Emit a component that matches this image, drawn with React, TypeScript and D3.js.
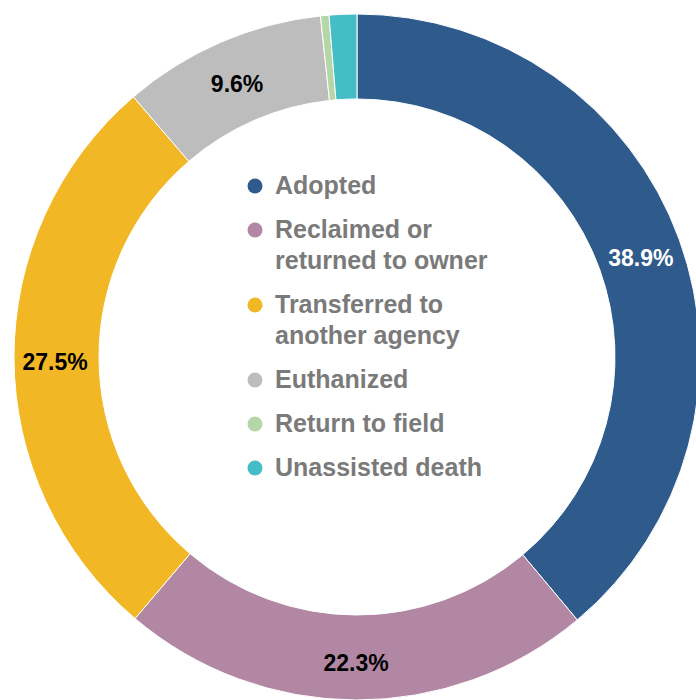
import React from "react";
import * as d3 from "d3";

const categories = [
  "Adopted",
  "Reclaimed or returned to owner",
  "Transferred to another agency",
  "Euthanized",
  "Return to field",
  "Unassisted death",
];
const values = [38.9, 22.3, 27.5, 9.6, 0.4, 1.3];
const valueLabels = ["38.9%", "22.3%", "27.5%", "9.6%", "", ""];
const colors = ["#2E5B8C", "#B287A3", "#F2B724", "#BDBDBD", "#B5D7A8", "#45BDC6"];
const labelColors = ["#FFFFFF", "#000000", "#000000", "#000000", "#000000", "#000000"];
const legendLines = [
  ["Adopted"],
  ["Reclaimed or", "returned to owner"],
  ["Transferred to", "another agency"],
  ["Euthanized"],
  ["Return to field"],
  ["Unassisted death"],
];

const W = 696;
const H = 700;
const CX = 357;
const CY = 357;
const R = 343;
const r = 258;

export default function App() {
  const pie = d3.pie<number>().sort(null).value((d) => d);
  const arcs = pie(values);
  const arcGen = d3.arc<d3.PieArcDatum<number>>().innerRadius(r).outerRadius(R);
  const lr = (R + r) / 2 + 1.5;
  const labelArc = d3.arc<d3.PieArcDatum<number>>().innerRadius(lr).outerRadius(lr);

  const font = "'Liberation Sans', Arial, sans-serif";
  let y = 194;
  const legendItems: { color: string; lines: string[]; baselines: number[] }[] = [];
  legendLines.forEach((lines, i) => {
    const baselines = lines.map((_, j) => y + j * 31);
    legendItems.push({ color: colors[i], lines, baselines });
    y = baselines[baselines.length - 1] + 44;
  });

  return (
    <svg
      width={W}
      height={H}
      style={{ position: "absolute", left: 0, top: 0, background: "#fff" }}
    >
      <g transform={`translate(${CX},${CY})`}>
        {arcs.map((a, i) => (
          <path key={i} d={arcGen(a) || ""} fill={colors[i]} stroke="#fff" strokeWidth={1} />
        ))}
        {arcs.map((a, i) => {
          if (!valueLabels[i]) return null;
          const [lx, ly] = labelArc.centroid(a);
          return (
            <text
              key={"l" + i}
              x={lx}
              y={ly + 4.5}
              textAnchor="middle"
              dominantBaseline="central"
              fontFamily={font}
              fontWeight="bold"
              fontSize={23}
              fill={labelColors[i]}
            >
              {valueLabels[i]}
            </text>
          );
        })}
      </g>
      {legendItems.map((it, i) => (
        <g key={"g" + i}>
          <circle cx={255} cy={it.baselines[0] - 8} r={7.5} fill={it.color} />
          {it.lines.map((t, j) => (
            <text
              key={j}
              x={275}
              y={it.baselines[j]}
              fontFamily={font}
              fontWeight="bold"
              fontSize={25}
              fill="#7A7A7A"
            >
              {t}
            </text>
          ))}
        </g>
      ))}
    </svg>
  );
}
